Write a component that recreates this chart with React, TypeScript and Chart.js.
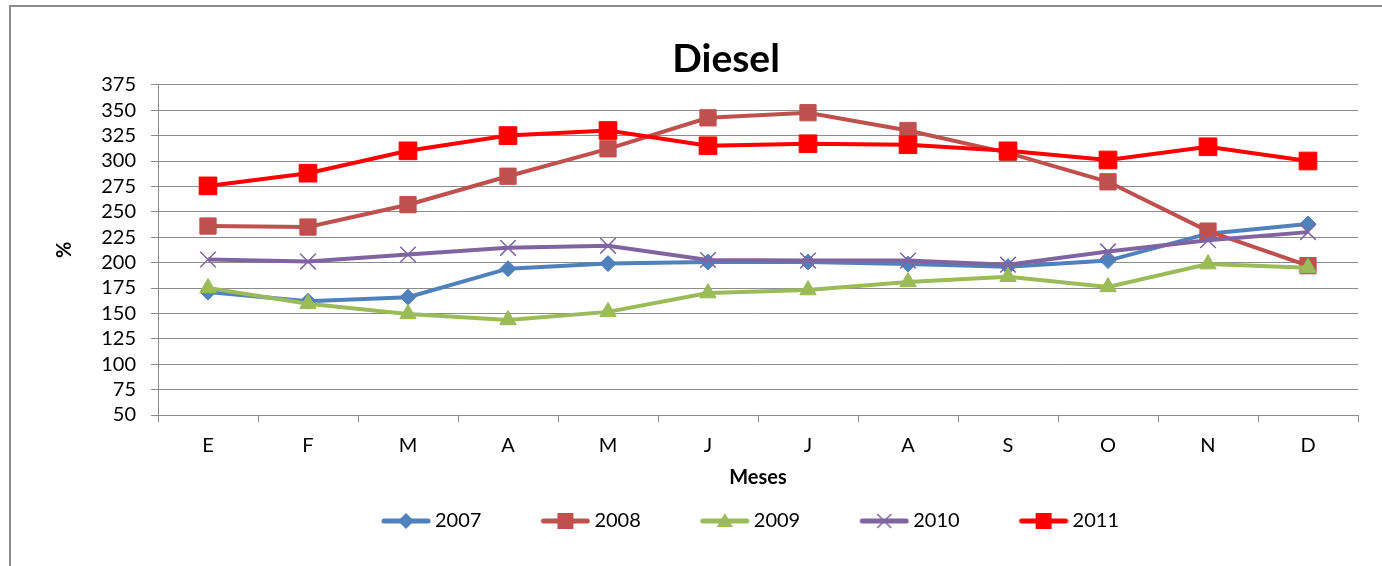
import React, { useEffect, useRef } from 'react';
import { Chart, registerables } from 'chart.js';

Chart.register(...registerables);

// ---- data ----
const months = ['E', 'F', 'M', 'A', 'M', 'J', 'J', 'A', 'S', 'O', 'N', 'D'];
const years = ['2007', '2008', '2009', '2010', '2011'];
const s2007 = [171, 162, 166, 194, 199, 200.5, 200.5, 198.5, 196, 202, 228.5, 238];
const s2008 = [236, 235, 257, 285, 312, 342.5, 347.5, 330, 308, 279.5, 231, 197];
const s2009 = [175, 159.5, 149.5, 143.5, 151.5, 170, 173, 181, 186, 176, 198.5, 195];
const s2010 = [203, 201, 208, 214.5, 216.5, 202.5, 202, 202, 198, 211, 222, 230];
const s2011 = [275.5, 288, 310, 325, 330, 315, 317, 316, 310, 301, 314, 300];
const yMin = 50;
const yMax = 375;
const yStep = 25;
const titleText = 'Diesel';
const xTitle = 'Meses';
const yTitle = '%';

// ---- styles ----
const colors = ['#4F81BD', '#C0504D', '#9BBB59', '#8064A2', '#FF0000'];
const markers = ['rectRot', 'rect', 'triangle', 'crossRot', 'rect'];
const radii = [8, 11.5, 9.5, 11, 12.5];
const legendMarkerSize = [8, 8, 8, 7, 8];
const FONT = 'Lato';
const W = 1452;
const H = 580;
const BOX_W = 92;
const IMG_W = BOX_W + 12;
const IMG_H = 20;

function legendSymbol(color: string, style: string, half: number): HTMLCanvasElement {
  const c = document.createElement('canvas');
  c.width = IMG_W;
  c.height = IMG_H;
  const ctx = c.getContext('2d')!;
  const x0 = IMG_W - 50;
  const x1 = IMG_W;
  const y = IMG_H / 2;
  ctx.strokeStyle = color;
  ctx.lineWidth = 5;
  ctx.lineCap = 'round';
  ctx.beginPath();
  ctx.moveTo(x0 + 3, y);
  ctx.lineTo(x1 - 3, y);
  ctx.stroke();
  const cx = x0 + 25;
  ctx.fillStyle = color;
  ctx.beginPath();
  if (style === 'rect') {
    ctx.fillRect(cx - half, y - half, half * 2, half * 2);
  } else if (style === 'rectRot') {
    ctx.moveTo(cx, y - half);
    ctx.lineTo(cx + half, y);
    ctx.lineTo(cx, y + half);
    ctx.lineTo(cx - half, y);
    ctx.closePath();
    ctx.fill();
  } else if (style === 'triangle') {
    ctx.moveTo(cx, y - half);
    ctx.lineTo(cx + half, y + half * 0.75);
    ctx.lineTo(cx - half, y + half * 0.75);
    ctx.closePath();
    ctx.fill();
  } else if (style === 'crossRot') {
    ctx.lineWidth = 1.5;
    ctx.lineCap = 'butt';
    ctx.moveTo(cx - half, y - half);
    ctx.lineTo(cx + half, y + half);
    ctx.moveTo(cx + half, y - half);
    ctx.lineTo(cx - half, y + half);
    ctx.stroke();
  }
  return c;
}

const framePlugin = {
  id: 'frame',
  beforeDraw(chart: any) {
    const ctx = chart.ctx;
    ctx.save();
    ctx.fillStyle = '#ffffff';
    ctx.fillRect(0, 0, chart.width, chart.height);
    ctx.fillStyle = '#8C8C8C';
    ctx.fillRect(9, 5, chart.width, 2);
    ctx.fillRect(9, 5, 2, chart.height);
    ctx.restore();
  },
};

export default function App() {
  const ref = useRef<HTMLCanvasElement>(null);

  useEffect(() => {
    if (!ref.current) return;
    const series = [s2007, s2008, s2009, s2010, s2011];
    const imgs = years.map((_, i) => legendSymbol(colors[i], markers[i], legendMarkerSize[i]));
    const datasets = series.map((data, i) => ({
      label: years[i],
      data,
      borderColor: colors[i],
      backgroundColor: colors[i],
      borderWidth: 4,
      tension: 0,
      pointStyle: markers[i],
      pointRadius: radii[i],
      pointHoverRadius: radii[i],
      pointBackgroundColor: colors[i],
      pointBorderColor: colors[i],
      pointBorderWidth: markers[i] === 'crossRot' ? 1.5 : 1,
      order: years.length - i,
    }));

    const chart = new Chart(ref.current, {
      type: 'line',
      data: { labels: months, datasets },
      plugins: [framePlugin],
      options: {
        responsive: false,
        animation: false,
        events: [],
        layout: { padding: { left: 94, right: W - 1358, top: 5, bottom: 39 } },
        plugins: {
          title: {
            display: true,
            text: titleText,
            color: '#000',
            font: { family: FONT, size: 39, weight: 'bold' },
            padding: { top: 31, bottom: 2 },
          },
          tooltip: { enabled: false },
          legend: {
            display: true,
            position: 'bottom',
            labels: {
              usePointStyle: true,
              pointStyleWidth: BOX_W,
              padding: 11,
              color: '#000',
              font: { family: FONT, size: 20 },
              generateLabels: () =>
                years.map((y, i) => ({
                  text: y,
                  pointStyle: imgs[i],
                  datasetIndex: i,
                  hidden: false,
                  fillStyle: colors[i],
                  strokeStyle: colors[i],
                  lineWidth: 0,
                  fontColor: '#000',
                })),
            },
          },
        },
        scales: {
          x: {
            type: 'category',
            offset: true,
            grid: {
              offset: true,
              drawOnChartArea: false,
              drawTicks: true,
              tickLength: 7,
              color: '#8C8C8C',
              lineWidth: 1,
            },
            border: { display: true, color: '#8C8C8C', width: 1 },
            ticks: { color: '#000', font: { family: FONT, size: 20 }, padding: 12, autoSkip: false, maxRotation: 0 },
            title: {
              display: true,
              text: xTitle,
              color: '#000',
              font: { family: FONT, size: 20, weight: 'bold' },
              padding: { top: 0, bottom: 10 },
            },
            afterFit: (scale: any) => {
              scale.height = 85;
            },
          },
          y: {
            min: yMin,
            max: yMax,
            grid: { color: '#8C8C8C', lineWidth: 1, tickLength: 7, drawTicks: true },
            border: { display: true, color: '#8C8C8C', width: 1 },
            ticks: {
              stepSize: yStep,
              autoSkip: false,
              color: '#000',
              font: { family: FONT, size: 20 },
              padding: 15,
            },
            title: {
              display: true,
              text: yTitle,
              color: '#000',
              font: { family: FONT, size: 20, weight: 'bold' },
              padding: { top: -41, bottom: 0 },
            },
            afterFit: (scale: any) => {
              scale.width = 64;
            },
          },
        },
      },
    } as any);
    return () => chart.destroy();
  }, []);

  return (
    <div style={{ position: 'fixed', left: 0, top: 0, width: 1382, height: 566, overflow: 'hidden', background: '#fff' }}>
      <canvas ref={ref} width={W} height={H} style={{ display: 'block', width: W, height: H }} />
    </div>
  );
}
